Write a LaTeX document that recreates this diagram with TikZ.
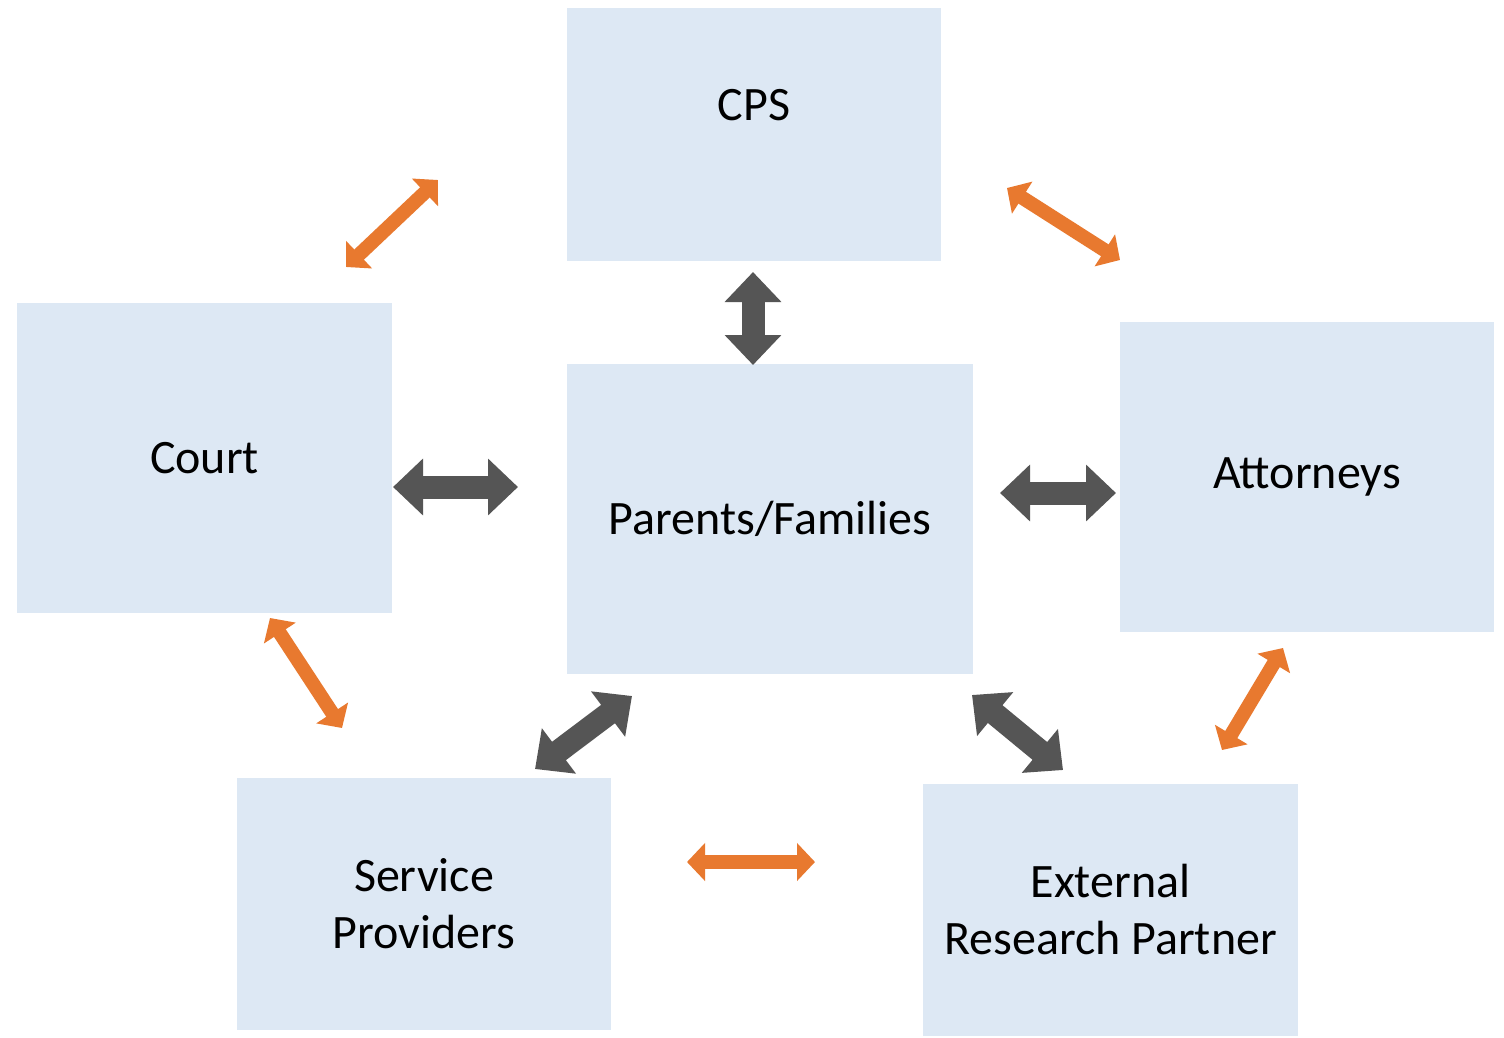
\documentclass[tikz,border=0pt]{standalone}
\usepackage{fontspec}
\setmainfont{Carlito}
\usetikzlibrary{arrows.meta}
\definecolor{boxfill}{HTML}{DDE8F4}
\definecolor{arrgray}{HTML}{555555}
\definecolor{arrorange}{HTML}{E8792F}
\tikzset{
  box/.style={fill=boxfill, draw=none, inner sep=0pt, align=center,
    font=\fontsize{48}{57}\selectfont},
  lbl/.style={inner sep=0pt, font=\fontsize{48}{57}\selectfont},
  darkarr/.style={line width=23pt, draw=arrgray, line cap=butt,
    {Triangle[width=55pt,length=30pt]}-{Triangle[width=55pt,length=30pt]}},
  orarr/.style={line width=14pt, draw=arrorange, line cap=butt,
    {Triangle[width=37pt,length=18pt]}-{Triangle[width=37pt,length=18pt]}}
}
\begin{document}
\begin{tikzpicture}[x=1pt,y=-1pt]
\path[fill=white, use as bounding box] (0,0) rectangle (1504,1038);
% boxes
\node[box, minimum width=374pt, minimum height=253pt] (cps) at (754,134.5) {};
\node[lbl] (cpstext) at (754,105) {CPS};
\node[box, minimum width=375pt, minimum height=310pt] (court) at (204.5,458) {Court};
\node[box, minimum width=406pt, minimum height=310pt] (pf) at (770,519) {Parents/Families};
\node[box, minimum width=374pt, minimum height=310pt] (att) at (1307,477) {Attorneys};
\node[box, minimum width=374pt, minimum height=252pt] (sp) at (424,904) {Service\\Providers};
\node[box, minimum width=375pt, minimum height=252pt] (erp) at (1110.5,910) {External\\Research Partner};
% arrow end points
\coordinate (cpsS) at (753,272);
\coordinate (pfN) at (753,365);
\coordinate (courtE) at (393,487);
\coordinate (pfW) at (518,487);
\coordinate (pfE) at (1000,493);
\coordinate (attW) at (1116,493);
\coordinate (pfSW) at (632,696);
\coordinate (spNE) at (535,769);
\coordinate (pfSE) at (972,695);
\coordinate (erpNW) at (1063,770);
\coordinate (courtNE) at (438,180);
\coordinate (cpsW) at (346,267);
\coordinate (cpsE) at (1007,188);
\coordinate (attN) at (1120,260);
\coordinate (courtS) at (270,618);
\coordinate (spN) at (342,728);
\coordinate (attS) at (1283,648);
\coordinate (erpN) at (1222,750);
\coordinate (spE) at (687,862);
\coordinate (erpW) at (815,862);
% dark arrows
\draw[darkarr] (cpsS) -- (pfN);
\draw[darkarr] (courtE) -- (pfW);
\draw[darkarr] (pfE) -- (attW);
\draw[darkarr] (pfSW) -- (spNE);
\draw[darkarr] (pfSE) -- (erpNW);
% orange arrows
\draw[orarr] (courtNE) -- (cpsW);
\draw[orarr] (cpsE) -- (attN);
\draw[orarr] (courtS) -- (spN);
\draw[orarr] (attS) -- (erpN);
\draw[orarr] (spE) -- (erpW);
\end{tikzpicture}
\end{document}
